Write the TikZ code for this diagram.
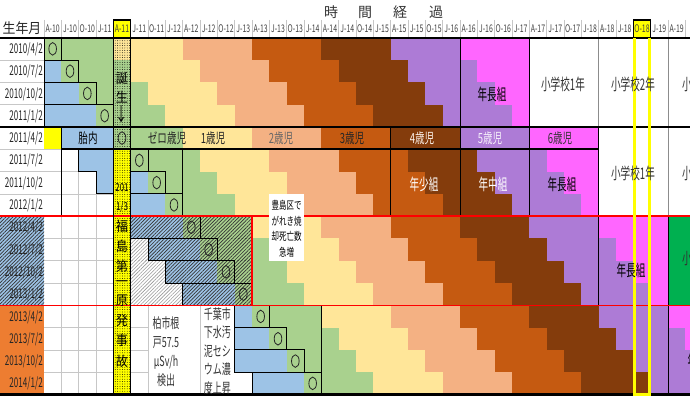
\documentclass[tikz,border=0pt]{standalone}
\usepackage{fontspec}
\setmainfont{Noto Sans CJK JP}
\usepackage{graphicx}
\usetikzlibrary{patterns.meta}
\definecolor{cBlue}{HTML}{9DC3E6}
\definecolor{cGreen}{HTML}{A9D18E}
\definecolor{cYel}{HTML}{FFE699}
\definecolor{cSal}{HTML}{F4B183}
\definecolor{cOra}{HTML}{C55A11}
\definecolor{cBro}{HTML}{843C0C}
\definecolor{cPur}{HTML}{AD7BD6}
\definecolor{cMag}{HTML}{FF66FF}
\definecolor{cBG}{HTML}{00B050}
\definecolor{cLOra}{HTML}{ED7D31}
\definecolor{cAcc}{HTML}{FFFF00}
\newcommand\CX[1]{(44+17.3333*(#1))}
\newcommand\RY[1]{(37.7+22.3*(#1))}
\newcommand\nw[2][0.65]{\scalebox{#1}[1]{#2}}
\newcommand\groupfill[4]{%
  \begin{scope}
    \clip ({\CX{#3}},{\RY{#1}}) rectangle ({\CX{#4}},{\RY{#2+1}});
    \foreach \i in {#1,...,#2}{
      \foreach \k/\cc in {0/cGreen,1/cYel,2/cSal,3/cOra,4/cBro,5/cPur,6/cMag}{
        \fill[\cc] ({\CX{\i+4*\k}},{\RY{\i}}) rectangle ({\CX{40}},{\RY{\i+1}});
      }
      \fill[cBlue] ({\CX{\i-3}},{\RY{\i}}) rectangle ({\CX{\i}},{\RY{\i+1}});
    }
  \end{scope}}
\tikzset{
  gridl/.style={draw=black!22, line width=0.5pt},
  boxl/.style={draw=black, line width=0.9pt},
  vl/.style={draw=black, line width=1pt},
  vlg/.style={draw=black!45, line width=1pt},
  redl/.style={draw=red, line width=1.6pt},
  circ/.style={draw=black!85, line width=0.8pt},
  hatchb/.style={pattern={Lines[angle=45,distance=2.5pt,line width=0.7pt]}, pattern color=black!80},
  hatchg/.style={pattern={Lines[angle=45,distance=2.5pt,line width=0.6pt]}, pattern color=black!40},
  dotp/.style={pattern={Dots[radius=0.45pt,distance=2.4pt]}, pattern color=black},
  hdrtxt/.style={font=\fontsize{10.5}{10.5}\selectfont, text=black!75, inner sep=0},
  datetxt/.style={font=\fontsize{13.5}{13.5}\selectfont, anchor=east, inner sep=0, text=black!85},
  agetxt/.style={font=\fontsize{14}{14}\selectfont, inner sep=0},
  bigtxt/.style={font=\fontsize{16}{16}\selectfont, inner sep=0, text=black!80},
  vtxt/.style={font=\fontsize{13.5}{13.5}\selectfont, inner sep=0, text=black},
  note/.style={font=\fontsize{14}{14}\selectfont, inner sep=0, text=black!80},
  smalln/.style={font=\fontsize{11}{11}\selectfont, inner sep=0, text=black},
  ttl/.style={font=\fontsize{14}{14}\selectfont, inner sep=0, text=black!80}
}
\begin{document}
\begin{tikzpicture}[x=1pt,y=-1pt]
\clip (0,0) rectangle (690,396);
\fill[white] (0,0) rectangle (690,396);
% light grid
\foreach \c in {1,2,3}{\draw[gridl] ({\CX{\c}},{\RY{4}}) -- ({\CX{\c}},{\RY{16}});}
\foreach \r in {5,...,15}{\draw[gridl] ({\CX{0}},{\RY{\r}}) -- ({\CX{4}},{\RY{\r}});}
\foreach \r in {1,...,15}{\draw[gridl] (0,{\RY{\r}}) -- ({\CX{0}},{\RY{\r}});}
\foreach \c in {6,9}{\draw[gridl] ({\CX{\c}},{\RY{12}}) -- ({\CX{\c}},{\RY{16}});}
\foreach \r in {13,14,15}{\draw[gridl] ({\CX{5}},{\RY{\r}}) -- ({\CX{6}},{\RY{\r}});}
\foreach \c in {0,...,37}{\draw[gridl] ({\CX{\c}},20) -- ({\CX{\c}},37.7);}
% age bands
\groupfill{0}{3}{0}{28}
\groupfill{4}{7}{0}{32}
\groupfill{8}{11}{5}{36}
\groupfill{12}{15}{11}{40}
\fill[cAcc] ({\CX{0}},{\RY{4}}) rectangle ({\CX{1}},{\RY{5}});
\fill[cBG] ({\CX{36}},{\RY{8}}) rectangle ({\CX{40}},{\RY{12}});
% hatched area after the accident
\begin{scope}
  \clip ({\CX{5}},{\RY{8}}) rectangle ({\CX{12}},{\RY{12}});
  \foreach \i in {9,10,11}{
    \fill[white] ({\CX{5}},{\RY{\i}}) rectangle ({\CX{\i-3}},{\RY{\i+1}});
    \fill[hatchg] ({\CX{5}},{\RY{\i}}) rectangle ({\CX{\i-3}},{\RY{\i+1}});
  }
  \foreach \i in {8,...,11}{
    \fill[hatchb] ({\CX{\i-3}},{\RY{\i}}) rectangle ({\CX{12}},{\RY{\i+1}});
  }
\end{scope}
% accident column
\fill[cAcc] ({\CX{4}},{\RY{5}}) rectangle ({\CX{5}},{\RY{16}});
\fill[dotp] ({\CX{4}},{\RY{0}}) rectangle ({\CX{5}},{\RY{16}});
% label column backgrounds
\fill[cBlue] (0,{\RY{8}}) rectangle ({\CX{0}},{\RY{12}});
\fill[hatchb] (0,{\RY{8}}) rectangle ({\CX{0}},{\RY{12}});
\fill[cLOra] (0,{\RY{12}}) rectangle ({\CX{0}},{\RY{16}});
% boxes round fetal and birth cells
\foreach \i in {0,...,3}{\draw[boxl] ({\CX{0}},{\RY{\i}}) rectangle ({\CX{\i+1}},{\RY{\i+1}});}
\draw[boxl] ({\CX{1}},{\RY{4}}) rectangle ({\CX{4}},{\RY{5}});
\draw[boxl] ({\CX{2}},{\RY{5}}) -- ({\CX{2}},{\RY{6}}) -- ({\CX{3}},{\RY{6}}) -- ({\CX{3}},{\RY{7}}) -- ({\CX{4}},{\RY{7}});
\foreach \i in {5,6,7}{\draw[boxl] ({\CX{5}},{\RY{\i}}) rectangle ({\CX{\i+1}},{\RY{\i+1}});}
\foreach \i in {8,...,11}{\draw[boxl] ({\CX{\i-3}},{\RY{\i}}) rectangle ({\CX{\i+1}},{\RY{\i+1}});}
\foreach \i/\a in {12/11,13/11,14/11,15/12}{\draw[boxl] ({\CX{\a}},{\RY{\i}}) rectangle ({\CX{\i+1}},{\RY{\i+1}});}
% vertical group lines
\draw[vl] ({\CX{24}},{\RY{0}}) -- ({\CX{24}},{\RY{8}});
\draw[vl] ({\CX{28}},{\RY{0}}) -- ({\CX{28}},{\RY{8}});
\draw[vlg] ({\CX{32}},{\RY{0}}) -- ({\CX{32}},{\RY{4}});
\draw[vl] ({\CX{32}},{\RY{4}}) -- ({\CX{32}},{\RY{12}});
\draw[vlg] ({\CX{36}},{\RY{0}}) -- ({\CX{36}},{\RY{8}});
\draw[vl] ({\CX{36}},{\RY{8}}) -- ({\CX{36}},{\RY{16}});
\draw[vl] ({\CX{20}},{\RY{4}}) -- ({\CX{20}},{\RY{8}});
\draw[vl] ({\CX{1}},{\RY{4}}) -- ({\CX{1}},{\RY{8}});
\draw[vl] ({\CX{8}},{\RY{5}}) -- ({\CX{8}},{\RY{8}});
\draw[vl] ({\CX{16}},{\RY{12}}) -- ({\CX{16}},{\RY{16}});
% horizontal lines
\draw[line width=2pt] (0,37.7) -- (690,37.7);
\draw[line width=2pt] (0,{\RY{4}}) -- (690,{\RY{4}});
\draw[line width=1.6pt] ({\CX{1}},{\RY{5}}) -- ({\CX{32}},{\RY{5}});
\draw[redl] (0,{\RY{8}}) -- (690,{\RY{8}});
\draw[redl] (0,{\RY{12}}) -- (690,{\RY{12}});
\draw[redl] ({\CX{12}},{\RY{8}}) -- ({\CX{12}},{\RY{12}});
\draw[line width=2.4pt] (0,{\RY{16}}) -- (690,{\RY{16}});
% accident column borders and header cells
\draw[line width=1.6pt] ({\CX{4}},20) -- ({\CX{4}},{\RY{16}});
\draw[line width=1.6pt] ({\CX{5}},20) -- ({\CX{5}},{\RY{16}});
\draw[cAcc, line width=3pt] ({\CX{34}+1.5},37.7) -- ({\CX{34}+1.5},394.5) -- ({\CX{35}-1.5},394.5) -- ({\CX{35}-1.5},37.7);
\filldraw[fill=cAcc, draw=black, line width=1.2pt] ({\CX{4}},20) rectangle ({\CX{5}},37.7);
\filldraw[fill=cAcc, draw=black, line width=1.2pt] ({\CX{34}},20) rectangle ({\CX{35}},37.7);
% box with text over the red line
\fill[white] ({\CX{13}},{\RY{7}}) rectangle ({\CX{15}},{\RY{10}});
% birth marks
\foreach \i in {0,...,15}{\draw[circ] ({\CX{\i}+8.667},{\RY{\i}+11.15}) ellipse [x radius=3.8pt, y radius=6.3pt];}
% header
\node[ttl] (t1) at (331,12) {時};
\node[ttl] (t2) at (365,12) {間};
\node[ttl] (t3) at (400,12) {経};
\node[ttl] (t4) at (436,12) {過};
\node[ttl, text=black!85] (sy) at (22,28.5) {\nw[0.92]{生年月}};
\foreach \t [count=\c from 0] in {A-10,J-10,O-10,J-11,A-11,J-11,O-11,J-12,A-12,J-12,O-12,J-13,A-13,J-13,O-13,J-14,A-14,J-14,O-14,J-15,A-15,J-15,O-15,J-16,A-16,J-16,O-16,J-17,A-17,J-17,O-17,J-18,A-18,J-18,O-18,J-19,A-19}{
  \node[hdrtxt] (h\c) at ({\CX{\c}+8.667},28.5) {\nw[0.66]{\t}};
}
\foreach \t [count=\rr from 0] in {{2010/4/2},{2010/7/2},{2010/10/2},{2011/1/2},{2011/4/2},{2011/7/2},{2011/10/2},{2012/1/2},{2012/4/2},{2012/7/2},{2012/10/2},{2013/1/2},{2013/4/2},{2013/7/2},{2013/10/2},{2014/1/2}}{
  \node[datetxt] (d\rr) at (43,{\RY{\rr}+11.6}) {\nw[0.6]{\t}};
}
% accident column texts
\node[vtxt] (v1) at ({\CX{4}+8.667},78) {\nw[0.9]{誕}};
\node[vtxt] (v2) at ({\CX{4}+8.667},97) {\nw[0.9]{生}};
\node[vtxt] (v3) at ({\CX{4}+8.667},114.5) {\scalebox{0.9}[1.4]{↓}};
\node[smalln] (w1) at ({\CX{4}+8.667},188) {\nw[0.72]{201}};
\node[smalln] (w2) at ({\CX{4}+8.667},207) {\nw[0.72]{1/3}};
\foreach \t/\yy [count=\n] in {福/226,島/246.5,第/266.5,一/284,原/301,発/320,事/340,故/361}{
  \node[vtxt] (f\n) at ({\CX{4}+8.667},\yy) {\nw[0.9]{\t}};
}
% age labels of the 2011/4/2 row
\node[agetxt, text=black] (a0) at (88,138) {\nw[0.68]{胎内}};
\node[agetxt, text=black!85] (a1) at (167,138) {\nw[0.68]{ゼロ歳児}};
\node[agetxt, text=black!85] (a2) at (213,138) {\nw[0.68]{1歳児}};
\node[agetxt, text=black!60] (a3) at (281,138) {\nw[0.68]{2歳児}};
\node[agetxt, text=black!85] (a4) at (352,138) {\nw[0.68]{3歳児}};
\node[agetxt, text=white!85!cSal] (a5) at (422,138) {\nw[0.68]{4歳児}};
\node[agetxt, text=white!90!cPur] (a6) at (490,138) {\nw[0.68]{5歳児}};
\node[agetxt, text=black!80] (a7) at (560,138) {\nw[0.68]{6歳児}};
% school labels
\node[bigtxt, text=black] (g0a) at (492,94) {\nw[0.6]{年長組}};
\node[bigtxt] (g0b) at (563,84) {\nw[0.6]{小学校1年}};
\node[bigtxt] (g0c) at (633,84) {\nw[0.6]{小学校2年}};
\node[bigtxt] (g0d) at (704,84) {\nw[0.6]{小学校3年}};
\node[bigtxt, text=white] (g1a) at (424,184) {\nw[0.6]{年少組}};
\node[bigtxt, text=white] (g1b) at (493,184) {\nw[0.6]{年中組}};
\node[bigtxt, text=black] (g1c) at (562,184) {\nw[0.6]{年長組}};
\node[bigtxt] (g1d) at (633,173) {\nw[0.6]{小学校1年}};
\node[bigtxt] (g1e) at (704,173) {\nw[0.6]{小学校2年}};
\node[bigtxt, text=black] (g2a) at (631,270) {\nw[0.6]{年長組}};
\node[bigtxt] (g2b) at (704,258) {\nw[0.6]{小学校1年}};
\node[bigtxt, text=black] (g3a) at (702,360) {\nw[0.6]{年長組}};
% notes
\node[smalln] (n1) at (286.7,205) {\nw[0.68]{豊島区で}};
\node[smalln] (n2) at (286.7,221) {\nw[0.68]{がれき焼}};
\node[smalln] (n3) at (286.7,236.5) {\nw[0.68]{却死亡数}};
\node[smalln] (n4) at (286.7,252) {\nw[0.68]{急増}};
\node[note] (k1) at (166,323) {\nw[0.64]{柏市根}};
\node[note] (k2) at (166,343) {\nw[0.64]{戸57.5}};
\node[note] (k3) at (166,362) {\nw[0.64]{μSv/h}};
\node[note] (k4) at (166,380) {\nw[0.64]{検出}};
\node[note] (s1) at (217.3,314) {\nw[0.64]{千葉市}};
\node[note] (s2) at (217.3,332.5) {\nw[0.64]{下水汚}};
\node[note] (s3) at (217.3,351) {\nw[0.64]{泥セシ}};
\node[note] (s4) at (217.3,369.5) {\nw[0.64]{ウム濃}};
\node[note] (s5) at (217.3,388) {\nw[0.64]{度上昇}};
\end{tikzpicture}
\end{document}
